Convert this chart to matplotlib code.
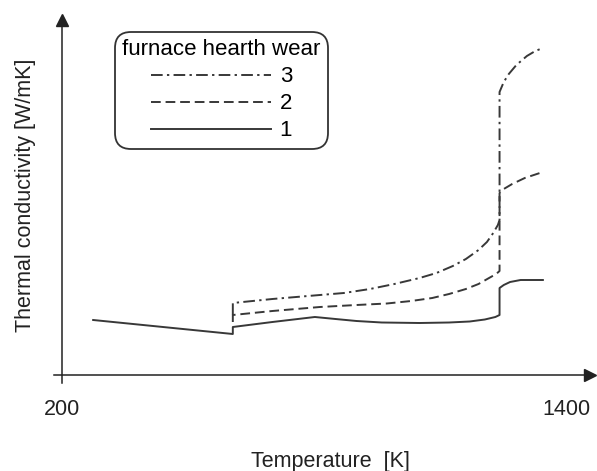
import matplotlib
matplotlib.use('Agg')
import matplotlib.pyplot as plt
from matplotlib.lines import Line2D

plt.rcParams['font.family'] = ['Liberation Sans', 'DejaVu Sans']
plt.rcParams['font.size'] = 15.5

# curve 1: solid (furnace hearth wear 1)
T1 = [274, 606, 606, 700, 801, 850, 900, 960, 1050, 1120, 1169, 1205, 1230, 1240,
      1240, 1250, 1265, 1290, 1343]
k1 = [5.5, 4.1, 4.8, 5.3, 5.8, 5.6, 5.4, 5.25, 5.2, 5.25, 5.35, 5.55, 5.8, 6.0,
      8.7, 9.0, 9.3, 9.5, 9.5]

# curve 2: dashed
T2 = [606, 606, 700, 813, 900, 972, 1030, 1080, 1120, 1160, 1190, 1215, 1232, 1240,
      1240, 1250, 1270, 1300, 1343]
k2 = [5.3, 6.0, 6.4, 6.8, 7.0, 7.15, 7.4, 7.7, 8.1, 8.6, 9.1, 9.7, 10.1, 10.4,
      18.2, 18.6, 19.1, 19.7, 20.3]

# curve 3: dash-dot
T3 = [606, 606, 700, 813, 870, 932, 990, 1050, 1090, 1129, 1160, 1190, 1210, 1225, 1236, 1240,
      1240, 1250, 1262, 1280, 1305, 1325, 1343]
k3 = [6.0, 7.2, 7.6, 8.0, 8.2, 8.6, 9.1, 9.7, 10.2, 10.9, 11.6, 12.5, 13.3, 14.2, 15.0, 15.5,
      28.3, 29.3, 30.1, 31.0, 31.9, 32.4, 32.7]

xticks = [200, 1400]
labels = ['3', '2', '1']

col = '#383838'
lw = 1.4

fig = plt.figure(figsize=(5.97, 4.71), dpi=100)
ax = fig.add_axes([53.6 / 597, 88 / 471, 536.4 / 597, 363 / 471])

ax.plot(T1, k1, color=col, lw=lw)
ax.plot(T2, k2, color=col, lw=lw, dashes=(5, 2.5))
ax.plot(T3, k3, color=col, lw=lw, dashes=(6, 2.2, 1.2, 2.2))

ax.set_xlim(180, 1455)
ax.set_ylim(-0.8, 35.5)

for s in ['top', 'right']:
    ax.spines[s].set_visible(False)
ax.spines['left'].set_position(('data', 200))
ax.spines['bottom'].set_position(('data', 0))
for s in ['left', 'bottom']:
    ax.spines[s].set_color('#222222')
    ax.spines[s].set_linewidth(1.1)

# arrow heads
ax.plot(1, 0, '>', color='#222222', ms=8, transform=ax.get_yaxis_transform(), clip_on=False)
ax.plot(200, 1, '^', color='#222222', ms=8, transform=ax.get_xaxis_transform(), clip_on=False)

ax.set_xticks(xticks)
ax.set_yticks([])
ax.tick_params(axis='x', length=0, pad=17, colors='#222222')

ax.set_xlabel('Temperature  [K]', color='#222222')
ax.xaxis.set_label_coords((330 - 53.6) / 536.4, (383 - 451) / 363)
ax.set_ylabel('Thermal conductivity [W/mK]', color='#222222')
ax.yaxis.set_label_coords((36 - 53.6) / 536.4, (383 - 195) / 363)

handles = [
    Line2D([], [], color=col, lw=lw, dashes=(6, 2.2, 1.2, 2.2)),
    Line2D([], [], color=col, lw=lw, dashes=(5, 2.5)),
    Line2D([], [], color=col, lw=lw),
]
leg = ax.legend(handles, labels, title='furnace hearth wear', loc='upper left',
                bbox_to_anchor=(115 / 597, 1 - 32 / 471), bbox_transform=fig.transFigure,
                borderaxespad=0, handlelength=5.4, handletextpad=0.4, labelspacing=0.27,
                borderpad=0.33, fancybox=True, framealpha=1, fontsize=16,
                title_fontsize=16)
frame = leg.get_frame()
frame.set_edgecolor('#333333')
frame.set_linewidth(1.3)
frame.set_boxstyle('round', pad=0, rounding_size=0.7)

fig.savefig('out.png', dpi=100)
